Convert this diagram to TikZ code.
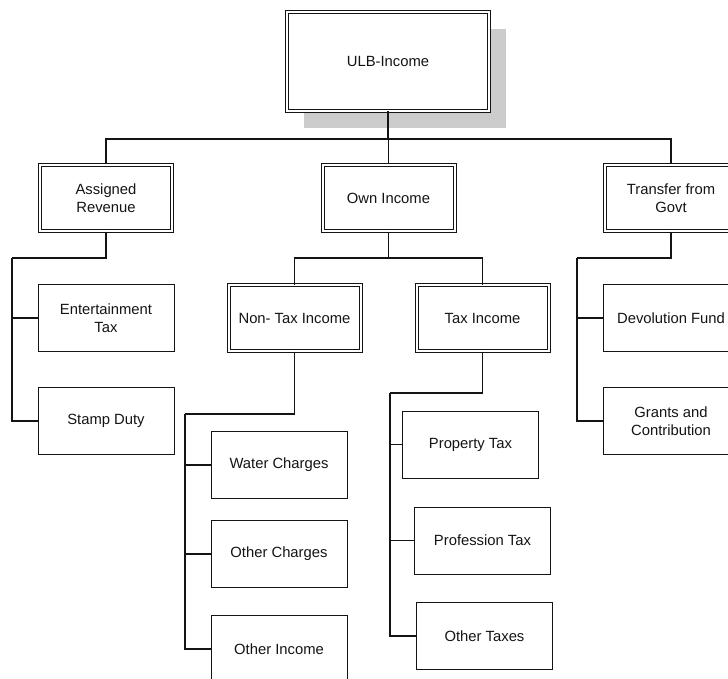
\documentclass[tikz,border=0pt]{standalone}
\usepackage{fontspec}
\setmainfont{Liberation Sans}
\usepackage{tikz}
\usetikzlibrary{positioning,shadows}
\definecolor{ink}{RGB}{20,20,20}
\definecolor{shade}{RGB}{204,204,204}
\tikzset{
  box/.style={draw=ink,fill=white,line width=1pt,align=center,inner sep=2pt,
    minimum width=136pt,minimum height=67pt,text=ink,
    font=\fontsize{14.8}{17.5}\selectfont},
  dbox/.style={box,double,double distance=2pt,line width=1pt,
    minimum width=132pt,minimum height=66pt},
  conn/.style={draw=ink,line width=1.1pt},
  drop/.style={draw=ink,line width=1.6pt}
}
\begin{document}
\begin{tikzpicture}[x=1pt,y=-1pt]
    \clip (0,0) rectangle (728,679);
    \node[dbox,minimum width=202pt,minimum height=99pt,
      drop shadow={shadow xshift=17pt,shadow yshift=-17pt,
        fill=shade,draw=none,opacity=1}] (ulb) at (388,61.5) {ULB-Income};
    \node[dbox] (assigned) at (106,198) {Assigned\\Revenue};
    \node[dbox] (own) at (388.5,198) {Own Income};
    \node[dbox] (transfer) at (671,198) {Transfer from\\Govt};
    \node[box] (entertain) at (106,318) {Entertainment\\Tax};
    \node[box] (stamp) at (106,421) {Stamp Duty};
    \node[dbox] (nontax) at (294.5,318) {Non- Tax Income};
    \node[dbox] (tax) at (482.5,318) {Tax Income};
    \node[box] (devolution) at (671,318) {Devolution Fund};
    \node[box] (grants) at (671,421) {Grants and\\Contribution};
    \node[box] (water) at (279,465) {Water Charges};
    \node[box] (othercharges) at (279,554) {Other Charges};
    \node[box] (otherincome) at (279,649) {Other Income};
    \node[box] (property) at (470.5,444.5) {Property Tax};
    \node[box] (profession) at (482.5,540.5) {Profession Tax};
    \node[box] (othertaxes) at (484.5,636) {Other Taxes};
    \coordinate (topbus) at (388,139);
    \coordinate (assignedbus) at (12,258);
    \coordinate (ownbus) at (388.5,258);
    \coordinate (transferbus) at (577,258);
    \coordinate (nontaxbus) at (185,414);
    \coordinate (taxbus) at (390,393);
    \draw[conn] (ulb.south) -- (topbus);
    \draw[conn] (assigned.north) |- (topbus) -| (transfer.north);
    \draw[conn] (own.north) -- (own.north |- topbus);
    \draw[drop] (assigned.south) |- (assignedbus);
    \draw[conn] (assignedbus) |- (stamp.west);
    \draw[conn] (assignedbus |- entertain.west) -- (entertain.west);
    \draw[drop] (own.south) -- (ownbus);
    \draw[conn] (nontax.north) |- (ownbus) -| (tax.north);
    \draw[drop] (transfer.south) |- (transferbus);
    \draw[conn] (transferbus) |- (grants.west);
    \draw[conn] (transferbus |- devolution.west) -- (devolution.west);
    \draw[drop] (nontax.south) |- (nontaxbus);
    \draw[drop] (nontaxbus) |- (otherincome.west);
    \draw[conn] (nontaxbus |- water.west) -- (water.west);
    \draw[conn] (nontaxbus |- othercharges.west) -- (othercharges.west);
    \draw[drop] (tax.south) |- (taxbus);
    \draw[conn] (taxbus) |- (othertaxes.west);
    \draw[conn] (taxbus |- property.west) -- (property.west);
    \draw[conn] (taxbus |- profession.west) -- (profession.west);
  \end{tikzpicture}
\end{document}
